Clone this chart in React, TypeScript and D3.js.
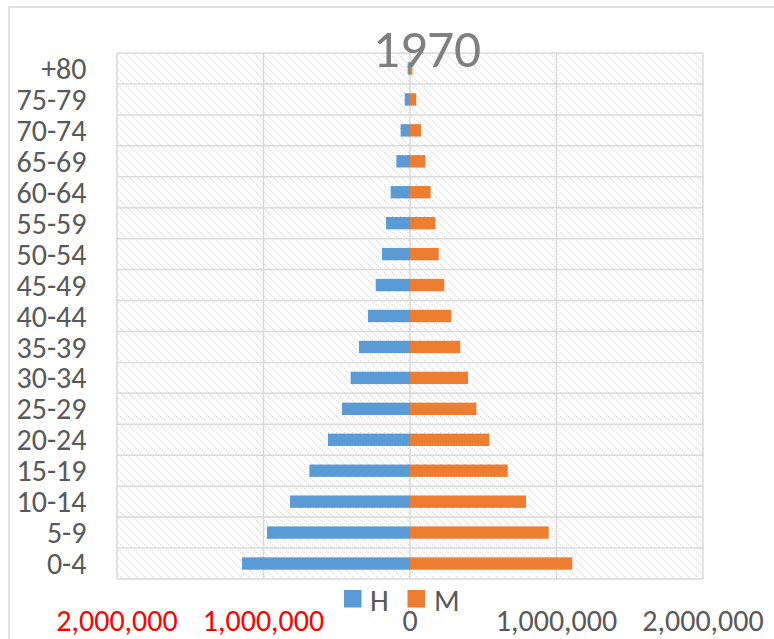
import React from "react";
import * as d3 from "d3";

const categories = ["0-4","5-9","10-14","15-19","20-24","25-29","30-34","35-39","40-44","45-49","50-54","55-59","60-64","65-69","70-74","75-79","+80"];
const hombres = [1147000, 976000, 819000, 687000, 560000, 464000, 405000, 348000, 287000, 234000, 191000, 164000, 132000, 93000, 64000, 36000, 16000];
const mujeres = [1108000, 947000, 792000, 667000, 541000, 453000, 396000, 343000, 282000, 234000, 196000, 173000, 141000, 105000, 75000, 43000, 16000];
const xTicks = [-2000000, -1000000, 0, 1000000, 2000000];
const title = "1970";
const legendLabels = ["H", "M"];

const W = 774, H = 639;
const plot = { left: 117, right: 703, top: 53, bottom: 579 };
const FONT = "Carlito, Lato, 'Open Sans', sans-serif";
const BLUE = "#5B9BD5";
const ORANGE = "#ED7D31";
const GRID = "#d9d9d9";
const TEXT = "#595959";

export default function App() {
  const x = d3.scaleLinear().domain([-2000000, 2000000]).range([plot.left, plot.right]);
  const y = d3.scaleBand<string>()
    .domain([...categories].reverse())
    .range([plot.top, plot.bottom])
    .paddingInner(0.6)
    .paddingOuter(0.3);
  const step = y.step();
  const bw = y.bandwidth();
  const fmt = d3.format(",");
  const rowEdges = d3.range(categories.length + 1).map(i => plot.top + i * step);

  return (
    <svg width={W} height={H} style={{ position: "absolute", left: 0, top: 0, background: "#fff" }}>
      <defs>
        <pattern id="hatch" width={8} height={8} patternUnits="userSpaceOnUse">
          <rect width={8} height={8} fill="#fff" />
          <path d="M-2,-2 L10,10 M-2,6 L2,10 M6,-2 L10,2" stroke="#dedede" strokeWidth={1.3} strokeDasharray="1.4,1.4" />
        </pattern>
      </defs>
      <rect x={9} y={7} width={900} height={800} fill="#fff" stroke={GRID} strokeWidth={1.5} />
      <rect x={plot.left} y={plot.top} width={plot.right - plot.left} height={plot.bottom - plot.top} fill="url(#hatch)" />
      {rowEdges.map((ry, i) => (
        <line key={"h" + i} x1={plot.left} x2={plot.right} y1={ry} y2={ry} stroke={GRID} strokeWidth={1.5} />
      ))}
      {xTicks.map((t, i) => (
        <line key={"v" + i} x1={x(t)} x2={x(t)} y1={plot.top} y2={plot.bottom} stroke={GRID} strokeWidth={1.5} />
      ))}
      {categories.map((c, i) => (
        <g key={"b" + c}>
          <rect x={x(-hombres[i])} y={y(c)} width={x(0) - x(-hombres[i])} height={bw} fill={BLUE} />
          <rect x={x(0)} y={y(c)} width={x(mujeres[i]) - x(0)} height={bw} fill={ORANGE} />
        </g>
      ))}
      <text x={427} y={66.5} textAnchor="middle" fontFamily={FONT} fontSize={53.5} fill="#7f7f7f">{title}</text>
      {categories.map(c => (
        <text key={"l" + c} x={86.5} y={(y(c) as number) + bw / 2 + 10.6} textAnchor="end" fontFamily={FONT} fontSize={30} fill={TEXT}>{c}</text>
      ))}
      {xTicks.map((t, i) => (
        <text key={"t" + i} x={x(t)} y={630.5} textAnchor="middle" fontFamily={FONT} fontSize={30} fill={t < 0 ? "#ff0000" : TEXT}>{fmt(Math.abs(t))}</text>
      ))}
      <g>
        <rect x={344} y={590} width={17.5} height={17.5} fill={BLUE} />
        <text x={370} y={610.7} fontFamily={FONT} fontSize={30} fill={TEXT}>{legendLabels[0]}</text>
        <rect x={407.5} y={590} width={17.5} height={17.5} fill={ORANGE} />
        <text x={434} y={610.7} fontFamily={FONT} fontSize={30} fill={TEXT}>{legendLabels[1]}</text>
      </g>
    </svg>
  );
}
